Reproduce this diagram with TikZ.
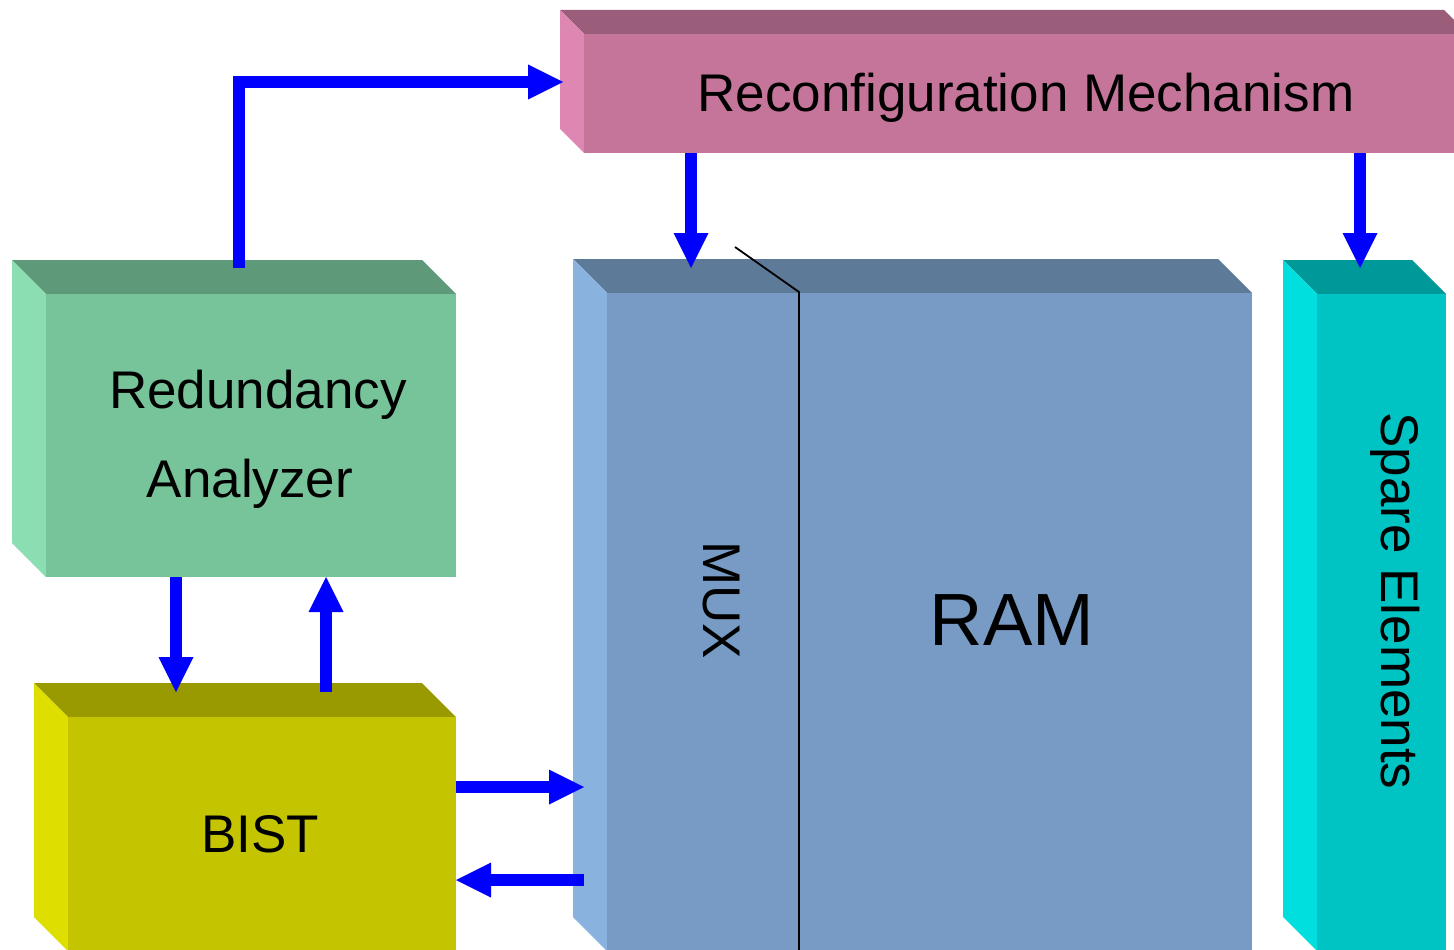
\documentclass[tikz,border=0pt]{standalone}
\usepackage{fontspec}
\setmainfont{Liberation Sans}
\usetikzlibrary{arrows.meta}

% face colours: front, top (darker), left side (lighter)
\definecolor{rcFront}{HTML}{C47599}
\definecolor{rcTop}{HTML}{9A5E7A}
\definecolor{rcSide}{HTML}{DE87B2}
\definecolor{raFront}{HTML}{77C49B}
\definecolor{raTop}{HTML}{5E997A}
\definecolor{raSide}{HTML}{8ADEB2}
\definecolor{ramFront}{HTML}{779BC4}
\definecolor{ramTop}{HTML}{5E7A99}
\definecolor{ramSide}{HTML}{8AB2DE}
\definecolor{spFront}{HTML}{00C4C4}
\definecolor{spTop}{HTML}{009999}
\definecolor{spSide}{HTML}{00DEDE}
\definecolor{biFront}{HTML}{C4C400}
\definecolor{biTop}{HTML}{999900}
\definecolor{biSide}{HTML}{DEDE00}
\definecolor{flow}{HTML}{0000FF}

% bevelled block: name, left, top, right, bottom, depth, front, top, side
\newcommand{\solidblock}[9]{%
  \fill[#8] (#2,#3) -- ({#4-#6},#3) -- (#4,{#3+#6}) -- ({#2+#6},{#3+#6}) -- cycle;
  \fill[#9] (#2,#3) -- ({#2+#6},{#3+#6}) -- ({#2+#6},#5) -- (#2,{#5-#6}) -- cycle;
  \pgfmathsetmacro\blockw{#4-#2-#6}%
  \pgfmathsetmacro\blockh{#5-#3-#6}%
  \node[frontface, fill=#7, minimum width=\blockw pt, minimum height=\blockh pt]
    (#1) at ({#2+#6},{#3+#6}) {};
}

\tikzset{
  frontface/.style={draw=none, inner sep=0pt, outer sep=0pt, anchor=north west},
  label/.style={anchor=base, inner sep=0pt, font=\fontsize{53}{60}\selectfont},
  biglabel/.style={anchor=base, inner sep=0pt, font=\fontsize{74}{80}\selectfont},
  flowarrow/.style={draw=flow, line width=12pt, line join=miter,
    -{Triangle[width=35pt,length=35pt,line width=0pt]}},
  divider/.style={draw=black, line width=1.8pt}
}

\begin{document}
\begin{tikzpicture}[x=1pt, y=-1pt]
\useasboundingbox (0,0) rectangle (1454,950);
\begin{scope}
\clip (0,0) rectangle (1454,950);

% blocks
\solidblock{rc}{560}{10}{1468}{153}{24}{rcFront}{rcTop}{rcSide}
\solidblock{ra}{12}{260}{456}{577}{34}{raFront}{raTop}{raSide}
\solidblock{bist}{34}{683}{456}{951}{34}{biFront}{biTop}{biSide}
\solidblock{ram}{573}{259}{1252}{951}{34}{ramFront}{ramTop}{ramSide}
\solidblock{spare}{1283}{260}{1446}{951}{34}{spFront}{spTop}{spSide}

% MUX / RAM boundary
\coordinate (muxA) at (735,247);
\coordinate (muxB) at (799,292);
\coordinate (muxC) at (799,955);
\draw[divider] (muxA) -- (muxB) -- (muxC);

% labels
\node[label] (rcText) at (1026,111) {Reconfiguration Mechanism};
\node[label] (raText1) at (258,408) {Redundancy};
\node[label] (raText2) at (250,497) {Analyzer};
\node[label] (bistText) at (260,852) {BIST};
\node[biglabel] (ramText) at (1012,645) {RAM};
\node[label, rotate=-90] (muxText) at (703,600) {MUX};
\node[label, rotate=-90] (spareText) at (1381,601) {Spare Elements};

% ports
\coordinate (raUp) at (239,268);
\coordinate (rcIn) at (563,82);
\coordinate (rcMux) at (691,153);
\coordinate (ramIn) at (691,268);
\coordinate (rcSp) at (1360,153);
\coordinate (spIn) at (1360,268);
\coordinate (raDown) at (176,577);
\coordinate (bistIn) at (176,692);
\coordinate (bistUp) at (326,692);
\coordinate (raIn) at (326,577);
\coordinate (bistOut) at (456,787);
\coordinate (ramLeftIn) at (584,787);
\coordinate (ramLeftOut) at (584,880);
\coordinate (bistRet) at (456,880);

% signal flow
\draw[flowarrow] (raUp) |- (rcIn);
\draw[flowarrow] (rcMux) -- (ramIn);
\draw[flowarrow] (rcSp) -- (spIn);
\draw[flowarrow] (raDown) -- (bistIn);
\draw[flowarrow] (bistUp) -- (raIn);
\draw[flowarrow] (bistOut) -- (ramLeftIn);
\draw[flowarrow] (ramLeftOut) -- (bistRet);
\end{scope}
\end{tikzpicture}
\end{document}
